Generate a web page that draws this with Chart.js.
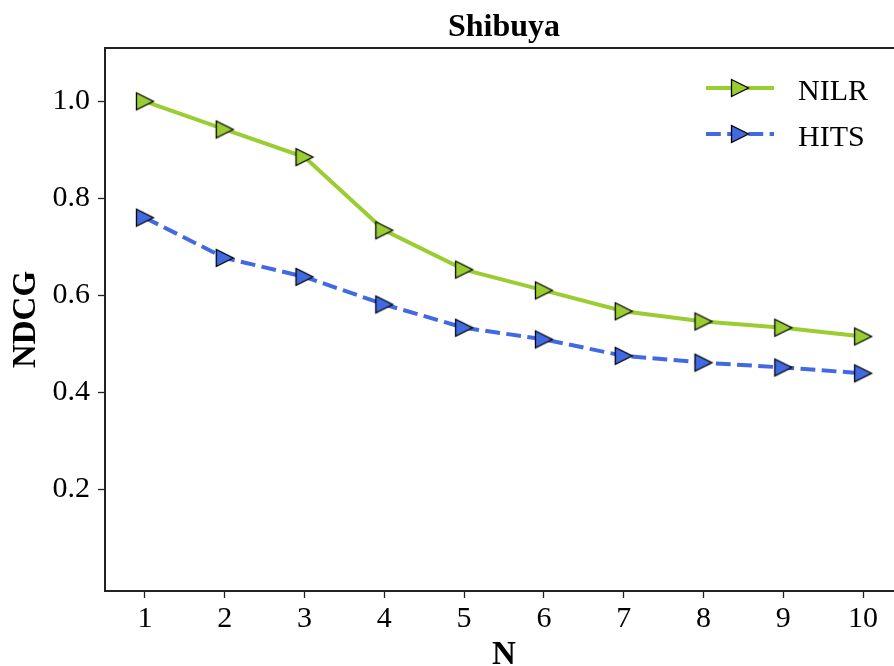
<!DOCTYPE html>
<html>
<head>
<meta charset="utf-8">
<script src="https://cdn.jsdelivr.net/npm/chart.js@4.4.1/dist/chart.umd.min.js"></script>
<style>
  html, body { margin: 0; padding: 0; background: #fff; }
  #wrap { width: 894px; height: 666px; overflow: hidden; position: relative; }
  canvas { display: block; }
</style>
</head>
<body>
<div id="wrap"><canvas id="chart" width="940" height="680"></canvas></div>
<script>
// data
const nValues = [1, 2, 3, 4, 5, 6, 7, 8, 9, 10];
const nilrValues = [1.0, 0.942, 0.885, 0.734, 0.653, 0.610, 0.567, 0.546, 0.533, 0.515];
const hitsValues = [0.760, 0.677, 0.638, 0.581, 0.533, 0.509, 0.475, 0.461, 0.451, 0.439];
const yTickValues = [0.2, 0.4, 0.6, 0.8, 1.0];
const xTickValues = [1, 2, 3, 4, 5, 6, 7, 8, 9, 10];
const seriesNames = ['NILR', 'HITS'];

const GREEN = '#9acd32';
const BLUE = '#4169e1';
const SERIF = '"Liberation Serif", "Times New Roman", serif';
const DASH = [14.8, 6.4];

// triangle marker pointing right, centred on its bounding box (like matplotlib '>')
function makeTriangle(fill) {
  const c = document.createElement('canvas');
  c.width = 22;
  c.height = 22;
  const g = c.getContext('2d');
  g.beginPath();
  g.moveTo(2.5, 2.5);
  g.lineTo(2.5, 19.5);
  g.lineTo(19.5, 11);
  g.closePath();
  g.fillStyle = fill;
  g.fill();
  g.lineWidth = 1.3;
  g.strokeStyle = '#000';
  g.stroke();
  return c;
}

const greenMarker = makeTriangle(GREEN);
const blueMarker = makeTriangle(BLUE);

// top frame line + legend drawn inside the axes
const framePlugin = {
  id: 'frame',
  afterDraw(chart) {
    const { ctx, chartArea } = chart;
    ctx.save();
    ctx.strokeStyle = '#222';
    ctx.lineWidth = 2;
    ctx.beginPath();
    ctx.moveTo(chartArea.left - 1, chartArea.top);
    ctx.lineTo(chartArea.right, chartArea.top);
    ctx.stroke();

    const rows = [
      { y: 88, color: GREEN, dash: [], marker: greenMarker },
      { y: 134, color: BLUE, dash: DASH, marker: blueMarker }
    ];
    rows.forEach((r, i) => {
      ctx.strokeStyle = r.color;
      ctx.lineWidth = 4;
      ctx.setLineDash(r.dash);
      ctx.beginPath();
      ctx.moveTo(706, r.y);
      ctx.lineTo(774, r.y);
      ctx.stroke();
      ctx.setLineDash([]);
      ctx.drawImage(r.marker, 740 - 11, r.y - 11);
      ctx.fillStyle = '#000';
      ctx.font = '30px ' + SERIF;
      ctx.textBaseline = 'alphabetic';
      ctx.textAlign = 'left';
      ctx.fillText(seriesNames[i], 798, r.y + 12);
    });
    ctx.restore();
  }
};

new Chart(document.getElementById('chart'), {
  type: 'line',
  data: {
    datasets: [
      {
        label: seriesNames[0],
        data: nValues.map((n, i) => ({ x: n, y: nilrValues[i] })),
        borderColor: GREEN,
        backgroundColor: GREEN,
        borderWidth: 4,
        pointStyle: greenMarker,
        pointRadius: 11,
        tension: 0,
        fill: false
      },
      {
        label: seriesNames[1],
        data: nValues.map((n, i) => ({ x: n, y: hitsValues[i] })),
        borderColor: BLUE,
        backgroundColor: BLUE,
        borderWidth: 4,
        borderDash: DASH,
        pointStyle: blueMarker,
        pointRadius: 11,
        tension: 0,
        fill: false
      }
    ]
  },
  options: {
    responsive: false,
    animation: false,
    devicePixelRatio: 1,
    layout: { padding: { left: 0, right: 37, top: 0, bottom: 0 } },
    plugins: {
      legend: { display: false },
      tooltip: { enabled: false },
      title: {
        display: true,
        text: 'Shibuya',
        fullSize: false,
        color: '#000',
        font: { family: SERIF, size: 32, weight: 'bold', lineHeight: 1.2 },
        padding: { top: 9, bottom: 0.6 }
      }
    },
    scales: {
      x: {
        type: 'linear',
        min: 0.5,
        max: 10.5,
        afterBuildTicks: (scale) => {
          scale.ticks = xTickValues.map((v) => ({ value: v }));
        },
        afterFit: (scale) => {
          scale.height = 89;
        },
        ticks: {
          color: '#000',
          font: { family: SERIF, size: 30 },
          padding: 3,
          maxRotation: 0,
          autoSkip: false,
          callback: (v) => String(v)
        },
        grid: {
          drawOnChartArea: false,
          drawTicks: true,
          tickLength: 7,
          tickColor: '#222',
          tickWidth: 1.3
        },
        border: { display: true, color: '#222', width: 2 },
        title: {
          display: true,
          text: 'N',
          color: '#000',
          font: { family: SERIF, size: 33, weight: 'bold', lineHeight: 1 },
          padding: { top: 0, bottom: 8 }
        }
      },
      y: {
        type: 'linear',
        min: -0.01,
        max: 1.11,
        afterBuildTicks: (scale) => {
          scale.ticks = yTickValues.map((v) => ({ value: v }));
        },
        afterFit: (scale) => {
          scale.width = 105;
        },
        ticks: {
          color: '#000',
          font: { family: SERIF, size: 30 },
          padding: 8,
          callback: (v) => v.toFixed(1)
        },
        grid: {
          drawOnChartArea: false,
          drawTicks: true,
          tickLength: 7,
          tickColor: '#222',
          tickWidth: 1.3
        },
        border: { display: true, color: '#222', width: 2 },
        title: {
          display: true,
          text: 'NDCG',
          color: '#000',
          font: { family: SERIF, size: 33, weight: 'bold', lineHeight: 1 },
          padding: { top: 10, bottom: 0 }
        }
      }
    }
  },
  plugins: [framePlugin]
});
</script>
</body>
</html>
